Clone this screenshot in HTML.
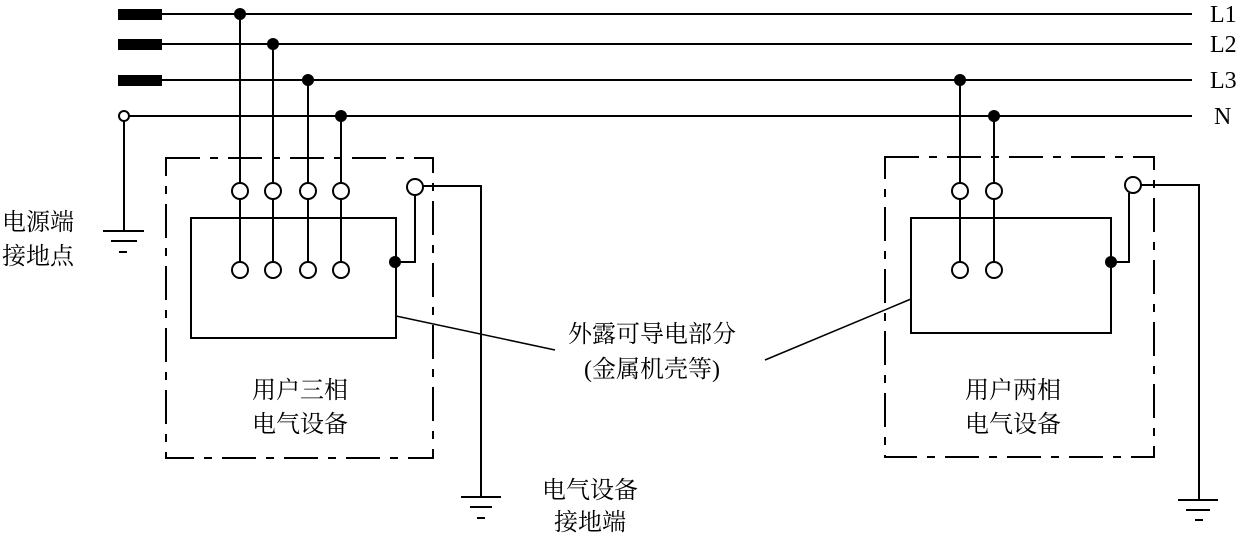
<!DOCTYPE html>
<html><head><meta charset="utf-8"><style>
body{margin:0;background:#fff}
svg text{font-family:"Liberation Serif","Noto Serif CJK SC","Noto Sans CJK SC",serif;font-size:24px;fill:#000}
</style></head><body>
<svg width="1243" height="537" viewBox="0 0 1243 537" xmlns="http://www.w3.org/2000/svg">
<g stroke="#000" stroke-width="2" fill="none">
<line x1="162" y1="14" x2="1192" y2="14"/>
<line x1="162" y1="44" x2="1192" y2="44"/>
<line x1="162" y1="80" x2="1192" y2="80"/>
<line x1="129" y1="116" x2="1192" y2="116"/>
<line x1="124" y1="121" x2="124" y2="231"/>
<line x1="103" y1="231" x2="144" y2="231"/>
<line x1="111" y1="241" x2="137" y2="241"/>
<line x1="119" y1="252" x2="127" y2="252"/>
<!-- left box -->
<rect x="166" y="158" width="267" height="300" stroke-dasharray="34,10,8,10"/>
<rect x="191" y="218" width="205" height="120"/>
<line x1="240" y1="14" x2="240" y2="270"/>
<line x1="273" y1="44" x2="273" y2="270"/>
<line x1="308" y1="80" x2="308" y2="270"/>
<line x1="341" y1="116" x2="341" y2="270"/>
<polyline points="396,262 415,262 415,194"/>
<polyline points="423,186 481,186 481,497"/>
<line x1="461" y1="497" x2="501" y2="497"/>
<line x1="470" y1="507" x2="492" y2="507"/>
<line x1="477" y1="518" x2="485" y2="518"/>
<!-- right box -->
<rect x="885" y="157" width="269" height="300" stroke-dasharray="34,10,8,10"/>
<rect x="911" y="218" width="200" height="115"/>
<line x1="960" y1="80" x2="960" y2="270"/>
<line x1="994" y1="116" x2="994" y2="270"/>
<polyline points="1111,262 1129,262 1129,193"/>
<polyline points="1141,185 1199,185 1199,500"/>
<line x1="1178" y1="500" x2="1218" y2="500"/>
<line x1="1186" y1="510" x2="1210" y2="510"/>
<line x1="1195" y1="520" x2="1203" y2="520"/>
<!-- leaders -->
<line x1="396" y1="316" x2="555" y2="350" stroke-width="1.5"/>
<line x1="911" y1="299" x2="765" y2="360" stroke-width="1.5"/>
</g>
<g fill="#000">
<rect x="118" y="9" width="44" height="11"/>
<rect x="118" y="39" width="44" height="11"/>
<rect x="118" y="75" width="44" height="11"/>
<circle cx="240" cy="14" r="6"/><circle cx="273" cy="44" r="6"/>
<circle cx="308" cy="80" r="6"/><circle cx="341" cy="116" r="6"/>
<circle cx="960" cy="80" r="6"/><circle cx="994" cy="116" r="6"/>
<circle cx="395" cy="262" r="6"/><circle cx="1111" cy="262" r="6"/>
</g>
<g fill="#fff" stroke="#000" stroke-width="2">
<circle cx="124" cy="116" r="5"/>
<circle cx="240" cy="191" r="8"/><circle cx="273" cy="191" r="8"/><circle cx="308" cy="191" r="8"/><circle cx="341" cy="191" r="8"/>
<circle cx="240" cy="270" r="8"/><circle cx="273" cy="270" r="8"/><circle cx="308" cy="270" r="8"/><circle cx="341" cy="270" r="8"/>
<circle cx="415" cy="187" r="8"/>
<circle cx="960" cy="191" r="8"/><circle cx="994" cy="191" r="8"/>
<circle cx="960" cy="270" r="8"/><circle cx="994" cy="270" r="8"/>
<circle cx="1133" cy="185" r="8"/>
</g>
<text x="1210" y="22">L1</text>
<text x="1210" y="52">L2</text>
<text x="1210" y="88">L3</text>
<text x="1214" y="124">N</text>
<text x="2" y="230">电源端</text>
<text x="2" y="264">接地点</text>
<text x="300" y="398" text-anchor="middle">用户三相</text>
<text x="300" y="432" text-anchor="middle">电气设备</text>
<text x="1013" y="398" text-anchor="middle">用户两相</text>
<text x="1013" y="432" text-anchor="middle">电气设备</text>
<text x="652" y="342" text-anchor="middle">外露可导电部分</text>
<text x="652" y="377" text-anchor="middle">(金属机壳等)</text>
<text x="590" y="498" text-anchor="middle">电气设备</text>
<text x="590" y="530" text-anchor="middle">接地端</text>
</svg>
</body></html>
